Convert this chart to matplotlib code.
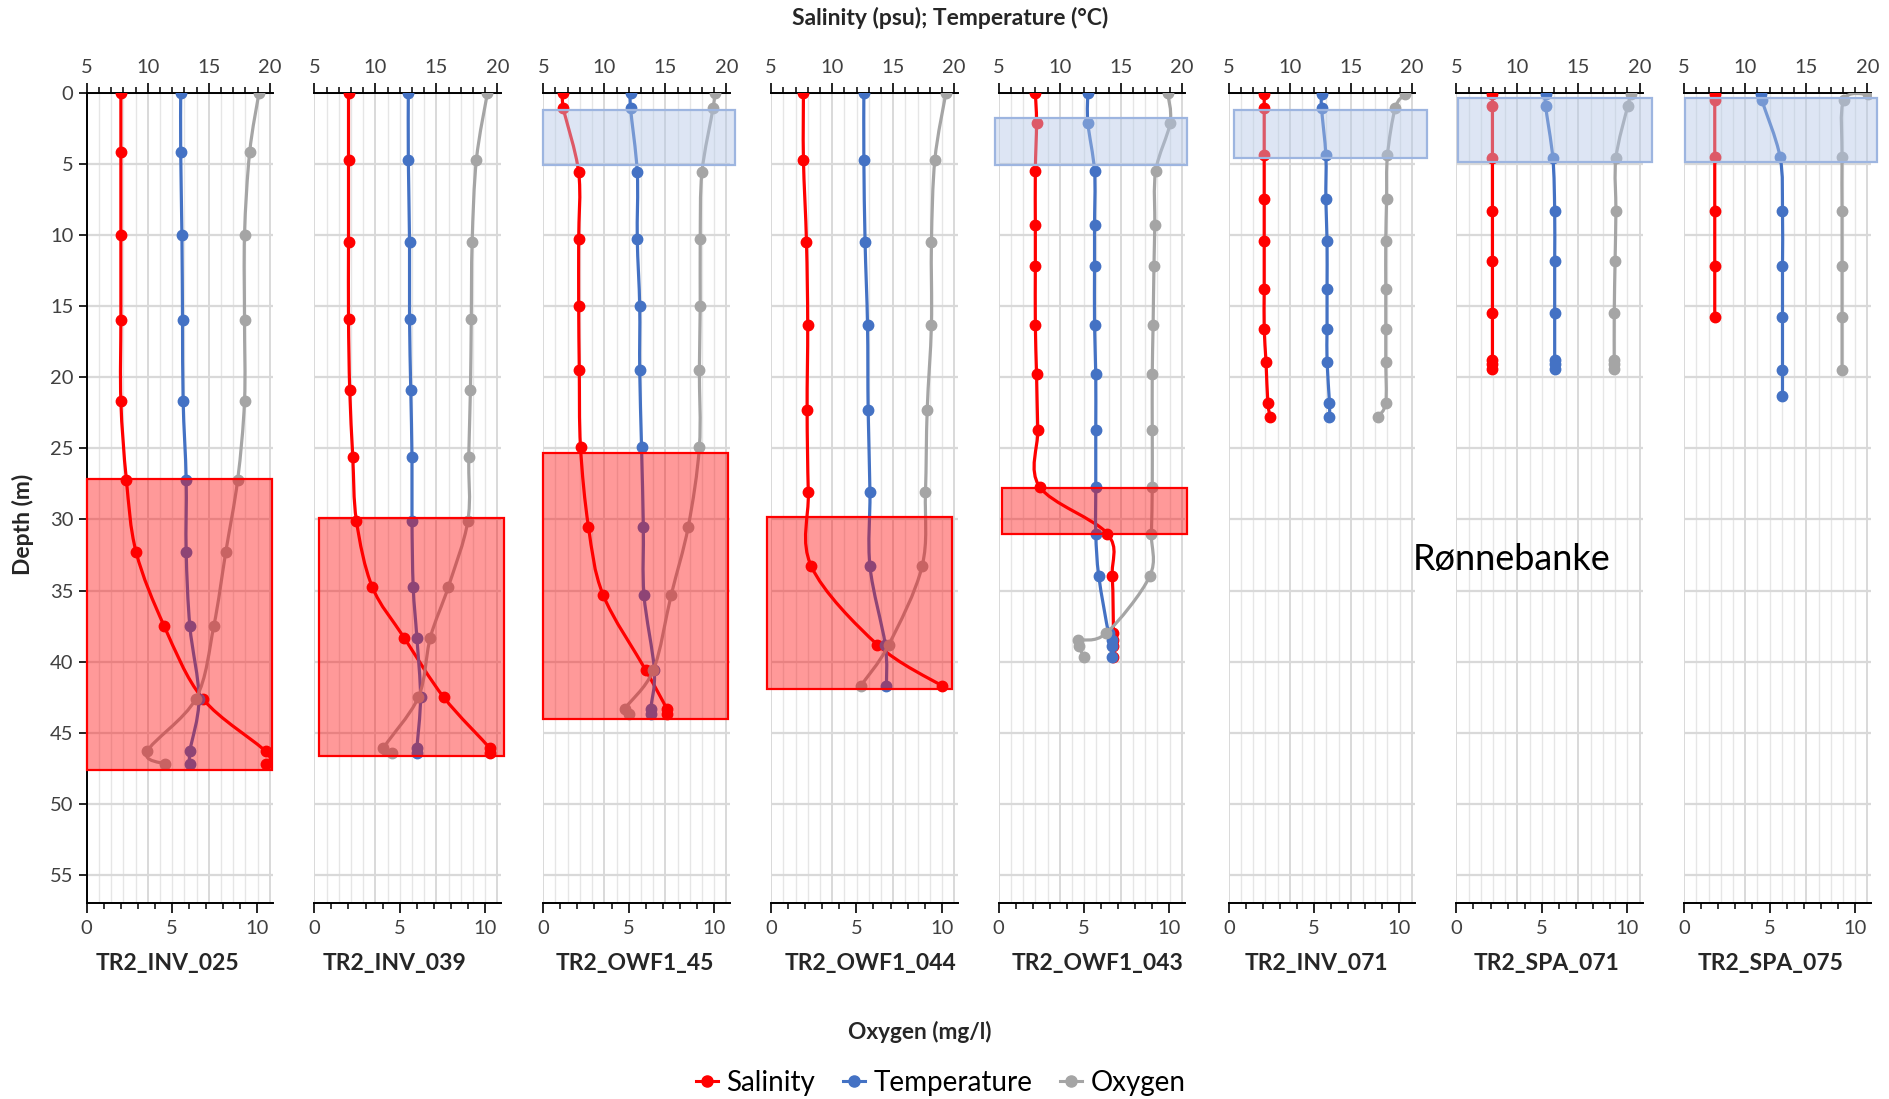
import numpy as np
import matplotlib
matplotlib.use('Agg')
import matplotlib.pyplot as plt
from matplotlib.path import Path
from matplotlib.patches import PathPatch, Rectangle
from matplotlib.ticker import MultipleLocator
from matplotlib.lines import Line2D

plt.rcParams['font.family'] = ['Lato', 'DejaVu Sans']

# ---- data ----
stations = ['TR2_INV_025', 'TR2_INV_039', 'TR2_OWF1_45', 'TR2_OWF1_044',
            'TR2_OWF1_043', 'TR2_INV_071', 'TR2_SPA_071', 'TR2_SPA_075']

depth_inv025 = [0, 4.2, 10.0, 16.0, 21.7, 27.2, 32.3, 37.5, 42.6, 46.3, 47.2]
sal_inv025 = [7.8, 7.8, 7.8, 7.8, 7.8, 8.25, 9.05, 11.35, 14.5, 19.65, 19.7]
temp_inv025 = [12.7, 12.7, 12.8, 12.85, 12.9, 13.15, 13.15, 13.45, 14.2, 13.45, 13.5]
oxy_inv025 = [10.1, 9.55, 9.25, 9.25, 9.25, 8.85, 8.15, 7.45, 6.4, 3.55, 4.6]

depth_inv039 = [0, 4.7, 10.5, 15.9, 20.9, 25.6, 30.1, 34.75, 38.3, 42.5, 46.1, 46.4]
sal_inv039 = [7.8, 7.8, 7.8, 7.8, 7.9, 8.15, 8.45, 9.75, 12.35, 15.6, 19.4, 19.4]
temp_inv039 = [12.7, 12.7, 12.8, 12.8, 12.9, 13.0, 13.0, 13.1, 13.4, 13.7, 13.4, 13.4]
oxy_inv039 = [10.15, 9.5, 9.25, 9.2, 9.15, 9.05, 9.0, 7.85, 6.8, 6.1, 4.05, 4.55]

depth_owf45 = [0, 1.1, 5.6, 10.3, 15.0, 19.5, 24.9, 30.5, 35.3, 40.6, 43.3, 43.7]
sal_owf45 = [6.65, 6.65, 7.9, 7.9, 7.9, 7.95, 8.05, 8.7, 9.9, 13.4, 15.1, 15.1]
temp_owf45 = [12.15, 12.15, 12.7, 12.7, 12.9, 12.9, 13.05, 13.2, 13.25, 14.1, 13.8, 13.8]
oxy_owf45 = [10.05, 9.95, 9.3, 9.2, 9.2, 9.15, 9.15, 8.5, 7.5, 6.45, 4.8, 5.05]

depth_owf044 = [0, 4.7, 10.5, 16.3, 22.3, 28.1, 33.3, 38.8, 41.7]
sal_owf044 = [7.65, 7.65, 7.9, 8.0, 7.95, 8.05, 8.3, 13.7, 19.0]
temp_owf044 = [12.6, 12.6, 12.7, 12.9, 12.95, 13.1, 13.1, 14.35, 14.45]
oxy_owf044 = [10.25, 9.6, 9.4, 9.4, 9.15, 9.05, 8.85, 6.9, 5.25]

depth_owf043 = [0, 2.1, 5.5, 9.3, 12.2, 16.3, 19.8, 23.7, 27.7, 31.0, 34.0, 38.0, 38.5, 38.9, 39.7]
sal_owf043 = [8.0, 8.1, 8.0, 8.0, 8.0, 8.0, 8.1, 8.2, 8.35, 13.9, 14.3, 14.4, 14.4, 14.4, 14.4]
temp_owf043 = [12.3, 12.3, 12.85, 12.85, 12.85, 12.85, 12.95, 12.95, 12.95, 12.95, 13.2, 14.0, 14.3, 14.3, 14.3]
oxy_owf043 = [9.9, 10.05, 9.2, 9.15, 9.1, 9.05, 9.0, 9.0, 9.0, 8.95, 8.85, 6.3, 4.65, 4.7, 5.0]

depth_inv071 = [0.1, 1.1, 4.4, 7.5, 10.4, 13.8, 16.6, 18.9, 21.8, 22.8]
sal_inv071 = [7.9, 7.9, 7.9, 7.9, 7.9, 7.9, 7.9, 8.05, 8.2, 8.4]
temp_inv071 = [12.6, 12.6, 12.95, 12.95, 13.05, 13.05, 13.05, 13.05, 13.25, 13.25]
oxy_inv071 = [10.3, 9.75, 9.3, 9.25, 9.2, 9.2, 9.2, 9.2, 9.2, 8.75]

depth_spa071 = [0.1, 0.9, 4.6, 8.3, 11.8, 15.5, 18.8, 19.1, 19.4]
sal_spa071 = [7.95, 7.95, 7.95, 7.95, 7.95, 7.95, 7.95, 7.95, 7.95]
temp_spa071 = [12.3, 12.3, 12.9, 13.05, 13.05, 13.05, 13.05, 13.05, 13.05]
oxy_spa071 = [10.25, 10.05, 9.35, 9.35, 9.3, 9.25, 9.25, 9.25, 9.25]

depth_spa075 = [0.1, 0.5, 4.5, 8.3, 12.2, 15.8, 19.5, 21.3]
sal_spa075 = [7.5, 7.5, 7.5, 7.5, 7.5, 7.5, None, None]
temp_spa075 = [11.3, 11.35, 12.85, 13.05, 13.05, 13.05, 13.05, 13.05]
oxy_spa075 = [10.8, 9.35, 9.25, 9.25, 9.25, 9.25, 9.25, None]

# shaded layers: [x from, x to (salinity axis), depth from, depth to]
hypoxia = [[5.0, 20.15, 27.15, 47.6], [5.35, 20.5, 29.9, 46.6], [5.0, 20.1, 25.3, 44.0],
           [4.7, 19.8, 29.85, 41.9], [5.3, 20.4, 27.8, 31.0], None, None, None]
thermocline = [None, None, [5.0, 20.7, 1.2, 5.05], None, [4.7, 20.4, 1.8, 5.1],
               [5.45, 21.2, 1.2, 4.6], [5.15, 21.0, 0.4, 4.9], [5.1, 20.8, 0.4, 4.85]]

profiles = [
    (depth_inv025, sal_inv025, temp_inv025, oxy_inv025),
    (depth_inv039, sal_inv039, temp_inv039, oxy_inv039),
    (depth_owf45, sal_owf45, temp_owf45, oxy_owf45),
    (depth_owf044, sal_owf044, temp_owf044, oxy_owf044),
    (depth_owf043, sal_owf043, temp_owf043, oxy_owf043),
    (depth_inv071, sal_inv071, temp_inv071, oxy_inv071),
    (depth_spa071, sal_spa071, temp_spa071, oxy_spa071),
    (depth_spa075, sal_spa075, temp_spa075, oxy_spa075),
]

RED = '#FF0000'
BLUE = '#4472C4'
GREY = '#A5A5A5'


def smooth_path(x, y):
    # excel-like smoothed line through the points (catmull-rom as bezier)
    pts = np.column_stack([x, y])
    n = len(pts)
    verts = [pts[0]]
    codes = [Path.MOVETO]
    for i in range(n - 1):
        p0 = pts[i - 1] if i > 0 else pts[i]
        p1 = pts[i]
        p2 = pts[i + 1]
        p3 = pts[i + 2] if i + 2 < n else pts[i + 1]
        verts += [p1 + (p2 - p0) / 6, p2 - (p3 - p1) / 6, p2]
        codes += [Path.CURVE4] * 3
    return Path(verts, codes)


def draw_series(ax, values, depths, color):
    pairs = [(v, d) for v, d in zip(values, depths) if v is not None]
    x = np.array([p[0] for p in pairs], dtype=float)
    y = np.array([p[1] for p in pairs], dtype=float)
    ax.add_patch(PathPatch(smooth_path(x, y), fill=False, edgecolor=color,
                           lw=2.3, capstyle='round', joinstyle='round', zorder=3))
    ax.plot(x, y, 'o', color=color, ms=7.5, mec=color, ls='none', zorder=4)


fig = plt.figure(figsize=(18.89, 10.99), dpi=100)

lefts = [0.0459, 0.1664, 0.2876, 0.4082, 0.5287, 0.6505, 0.7710, 0.8916]
width = 0.0988
bottom = 0.1779
height = 0.7377
name_pos = [0.43, 0.43, 0.49, 0.53, 0.53, 0.47, 0.48, 0.46]

for i, name in enumerate(stations):
    depth, sal, temp, oxy = profiles[i]
    ax = fig.add_axes([lefts[i], bottom, width, height])
    ax2 = ax.twiny()

    # top axis: salinity / temperature, bottom axis: oxygen
    ax.xaxis.set_ticks_position('top')
    ax.xaxis.set_label_position('top')
    ax2.xaxis.set_ticks_position('bottom')
    ax2.xaxis.set_label_position('bottom')

    draw_series(ax, sal, depth, RED)
    draw_series(ax, temp, depth, BLUE)
    draw_series(ax2, oxy, depth, GREY)

    for box, fc, ec, a in [(hypoxia[i], RED, RED, 0.4),
                           (thermocline[i], '#B4C7E7', '#9DB5E0', 0.45)]:
        if box is None:
            continue
        x0, x1, d0, d1 = box
        ax2.add_patch(Rectangle((x0, d0), x1 - x0, d1 - d0, transform=ax.transData,
                                facecolor=fc, edgecolor='none', alpha=a, zorder=5,
                                clip_on=False))
        ax2.add_patch(Rectangle((x0, d0), x1 - x0, d1 - d0, transform=ax.transData,
                                facecolor='none', edgecolor=ec, lw=1.6, zorder=6,
                                clip_on=False))

    ax.set_xlim(5, 20.29)
    ax2.set_xlim(0, 10.94)
    ax.set_ylim(57, 0)

    ax.xaxis.set_major_locator(MultipleLocator(5))
    ax.xaxis.set_minor_locator(MultipleLocator(1))
    ax2.xaxis.set_major_locator(MultipleLocator(5))
    ax2.xaxis.set_minor_locator(MultipleLocator(1))
    ax.yaxis.set_major_locator(MultipleLocator(5))

    for a_ in (ax, ax2):
        a_.tick_params(axis='x', which='major', length=7, width=1.2, color='black',
                       labelsize=14.5, labelcolor='#404040', pad=5)
        a_.tick_params(axis='x', which='minor', length=4, width=1.1, color='black')
        for s in a_.spines.values():
            s.set_visible(False)
    ax.spines['top'].set_visible(True)
    ax.spines['top'].set_linewidth(1.4)
    ax2.spines['bottom'].set_visible(True)
    ax2.spines['bottom'].set_linewidth(1.4)

    if i == 0:
        ax.spines['left'].set_visible(True)
        ax.spines['left'].set_linewidth(1.4)
        ax.tick_params(axis='y', length=6, width=1.2, labelsize=14.5, labelcolor='#404040')
    else:
        ax.tick_params(axis='y', left=False, labelleft=False)

    ax.set_axisbelow(True)
    ax.grid(axis='x', which='major', color='#D9D9D9', lw=1.4)
    ax.grid(axis='x', which='minor', color='#E6E6E6', lw=1.0)
    ax.grid(axis='y', which='major', color='#D9D9D9', lw=1.6)

    fig.text(lefts[i] + width * name_pos[i], 0.123, name, ha='center', va='center',
             fontsize=16.5, fontweight='bold', color='#262626')

fig.text(0.503, 0.984, 'Salinity (psu); Temperature (°C)', ha='center', va='center',
         fontsize=16.5, fontweight='bold', color='#262626')
fig.text(0.012, 0.523, 'Depth (m)', rotation=90, ha='center', va='center',
         fontsize=16.5, fontweight='bold', color='#262626')
fig.text(0.487, 0.061, 'Oxygen (mg/l)', ha='center', va='center',
         fontsize=16.3, fontweight='bold', color='#262626')
fig.text(0.80, 0.491, 'Rønnebanke', ha='center', va='center', fontsize=26, color='black')

handles = [Line2D([], [], color=c, marker='o', ms=8, lw=2.2) for c in (RED, BLUE, GREY)]
fig.legend(handles, ['Salinity', 'Temperature', 'Oxygen'], loc='center',
           bbox_to_anchor=(0.498, 0.015), ncol=3, frameon=False, fontsize=20,
           handlelength=0.8, handletextpad=0.3, columnspacing=1.0)

fig.savefig('out.png', dpi=100)
